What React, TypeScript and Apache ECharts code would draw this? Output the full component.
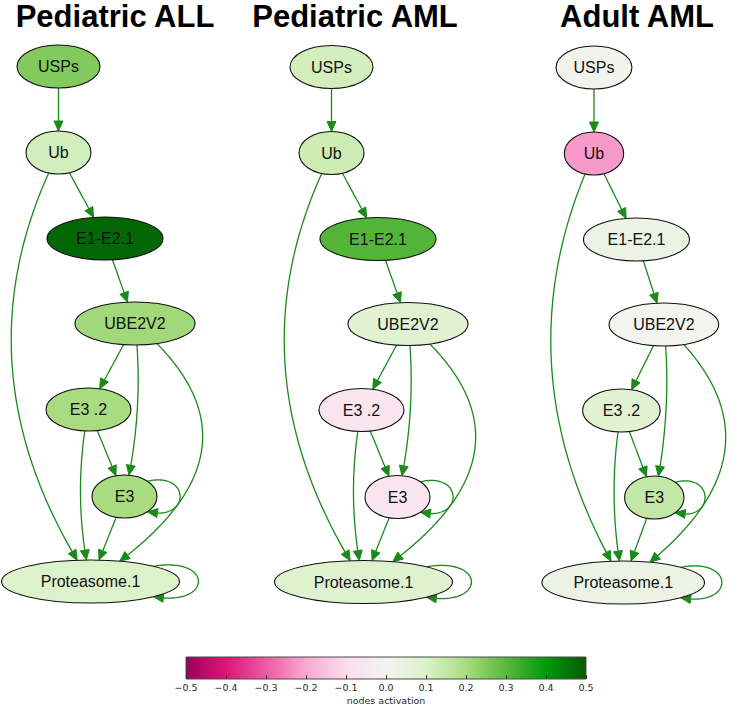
import React, { useEffect, useRef } from 'react';
import * as echarts from 'echarts';

// ---------------- data ----------------
const panelTitles = ['Pediatric ALL', 'Pediatric AML', 'Adult AML'];
const nodeNames = ['USPs', 'Ub', 'E1-E2.1', 'UBE2V2', 'E3 .2', 'E3', 'Proteasome.1'];
// graph layout (layout units)
const nodeX = [0, 0, 46.5, 76.5, 30, 66, 32];
const nodeY = [0, 86, 172, 257, 343, 430, 515];
const nodeW = [83, 65, 116, 120, 85, 65, 178];
const nodeH = [43, 43, 43, 43, 43, 43, 43];
// node activation per panel
const pediatricALL = [0.25, 0.12, 0.48, 0.21, 0.2, 0.2, 0.1];
const pediatricAML = [0.12, 0.13, 0.31, 0.08, -0.06, -0.06, 0.09];
const adultAML = [0.01, -0.22, 0.03, 0.0, 0.08, 0.15, 0.03];
const panelValues = [pediatricALL, pediatricAML, adultAML];
// edges
const edgeSource = [0, 1, 1, 2, 3, 3, 3, 4, 4, 5, 5, 6];
const edgeTarget = [1, 2, 6, 3, 4, 5, 6, 5, 6, 5, 6, 6];
const edgeBend = [0, 0, -83, 0, 0, 10, 118, 0, -12, 0, 0, 0];
// colour scale
const cmapValues = [-0.5, -0.4, -0.3, -0.2, -0.1, 0, 0.1, 0.2, 0.3, 0.4, 0.5];
const cmapColors = ['#9b0058', '#db1679', '#ee5ba3', '#f9a8d2', '#fcdcec', '#f3f3f0', '#dcf2cb', '#a9dc80', '#5bb83c', '#029a0c', '#045a04'];

// ---------------- styles / layout ----------------
const panelCenterX = [58.5, 331.5, 599];
const panelTopY = [66.5, 67, 67.5];
const X_MIN = -58, X_MAX = 162, Y_MIN = -66, Y_MAX = 560;
const EDGE_COLOR = '#1a8a1a';
const LOOP_REACH = 34;
const ARROW_LEN = 10;
const ARROW_HW = 4.5;

const hexToRgb = (h: string) => [parseInt(h.slice(1, 3), 16), parseInt(h.slice(3, 5), 16), parseInt(h.slice(5, 7), 16)];
function activationColor(v: number): string {
  const n = cmapValues.length;
  if (v <= cmapValues[0]) return cmapColors[0];
  if (v >= cmapValues[n - 1]) return cmapColors[n - 1];
  for (let k = 0; k < n - 1; k++) {
    if (v <= cmapValues[k + 1]) {
      const f = (v - cmapValues[k]) / (cmapValues[k + 1] - cmapValues[k]);
      const a = hexToRgb(cmapColors[k]);
      const b = hexToRgb(cmapColors[k + 1]);
      const c = a.map((x, j) => Math.round(x + (b[j] - x) * f));
      return `rgb(${c.join(',')})`;
    }
  }
  return cmapColors[n - 1];
}

type P = number[];
const bez = (p0: P, p1: P, p2: P, p3: P, t: number): P => {
  const u = 1 - t;
  const a = u * u * u, b = 3 * u * u * t, c = 3 * u * t * t, d = t * t * t;
  return [a * p0[0] + b * p1[0] + c * p2[0] + d * p3[0], a * p0[1] + b * p1[1] + c * p2[1] + d * p3[1]];
};
const inside = (c: P, rx: number, ry: number, p: P) => ((p[0] - c[0]) / rx) ** 2 + ((p[1] - c[1]) / ry) ** 2 <= 1;

function renderEdge(params: any, api: any) {
  const i = params.dataIndex;
  const s = edgeSource[i];
  const t = edgeTarget[i];
  const S = api.coord([api.value(0), api.value(1)]);
  const T = api.coord([api.value(2), api.value(3)]);
  const sSz = api.size([nodeW[s], nodeH[s]]);
  const tSz = api.size([nodeW[t], nodeH[t]]);
  const srx = sSz[0] / 2, sry = sSz[1] / 2, trx = tSz[0] / 2, tRy = tSz[1] / 2;
  let P0: P, P1: P, P2: P, P3: P;
  let t0 = 0, t1 = 1;
  if (s === t) {
    const L = api.size([LOOP_REACH, 0])[0];
    const k = Math.SQRT1_2;
    P0 = [S[0] + k * srx, S[1] - k * sry];
    P3 = [S[0] + k * srx, S[1] + k * sry];
    P1 = [S[0] + srx + L, S[1] - sry - 4];
    P2 = [S[0] + srx + L, S[1] + sry + 4];
  } else {
    const b = api.value(4);
    const bx = Math.sign(b) * api.size([Math.abs(b), 0])[0];
    P0 = S;
    P3 = T;
    P1 = [S[0] + (T[0] - S[0]) / 3 + bx, S[1] + (T[1] - S[1]) / 3];
    P2 = [S[0] + (2 * (T[0] - S[0])) / 3 + bx, S[1] + (2 * (T[1] - S[1])) / 3];
    let lo = 0, hi = 0.5;
    for (let it = 0; it < 30; it++) {
      const m = (lo + hi) / 2;
      if (inside(S, srx, sry, bez(P0, P1, P2, P3, m))) lo = m; else hi = m;
    }
    t0 = hi;
    lo = 0.5; hi = 1;
    for (let it = 0; it < 30; it++) {
      const m = (lo + hi) / 2;
      if (inside(T, trx, tRy, bez(P0, P1, P2, P3, m))) hi = m; else lo = m;
    }
    t1 = lo;
  }
  const N = 60;
  const pts: P[] = [];
  for (let k = 0; k <= N; k++) pts.push(bez(P0, P1, P2, P3, t0 + ((t1 - t0) * k) / N));
  const tip = pts[N];
  let j = N - 1;
  while (j > 0 && Math.hypot(pts[j][0] - tip[0], pts[j][1] - tip[1]) < ARROW_LEN) j--;
  const dx = tip[0] - pts[j][0], dy = tip[1] - pts[j][1];
  const len = Math.hypot(dx, dy) || 1;
  const ux = dx / len, uy = dy / len;
  const base = [tip[0] - ux * ARROW_LEN, tip[1] - uy * ARROW_LEN];
  const line = pts.slice(0, j + 1).concat([base]);
  const px = -uy, py = ux;
  return {
    type: 'group',
    children: [
      { type: 'polyline', shape: { points: line }, style: { stroke: EDGE_COLOR, lineWidth: 1.3, fill: null } },
      {
        type: 'polygon',
        shape: { points: [tip, [base[0] + px * ARROW_HW, base[1] + py * ARROW_HW], [base[0] - px * ARROW_HW, base[1] - py * ARROW_HW]] },
        style: { fill: EDGE_COLOR, stroke: EDGE_COLOR, lineWidth: 1 },
      },
    ],
  };
}

function renderNode(params: any, api: any) {
  const i = params.dataIndex;
  const c = api.coord([api.value(0), api.value(1)]);
  const sz = api.size([nodeW[i], nodeH[i]]);
  return {
    type: 'group',
    children: [
      {
        type: 'ellipse',
        shape: { cx: c[0], cy: c[1], rx: sz[0] / 2, ry: sz[1] / 2 },
        style: { fill: activationColor(api.value(2)), stroke: '#111', lineWidth: 1.1 },
      },
      {
        type: 'text',
        x: c[0],
        y: c[1],
        style: {
          text: nodeNames[i],
          fill: '#111',
          font: '16px "Liberation Sans", Arial, sans-serif',
          align: 'center',
          verticalAlign: 'middle',
        },
      },
    ],
  };
}

function renderColorbar(params: any, api: any) {
  const p0 = api.coord([api.value(0), 1]);
  const p1 = api.coord([api.value(1), 0]);
  const lo = cmapValues[0], hi = cmapValues[cmapValues.length - 1];
  return {
    type: 'rect',
    shape: { x: p0[0], y: p0[1], width: p1[0] - p0[0], height: p1[1] - p0[1] },
    style: {
      fill: new echarts.graphic.LinearGradient(0, 0, 1, 0,
        cmapValues.map((v, k) => ({ offset: (v - lo) / (hi - lo), color: cmapColors[k] }))),
      stroke: '#4a4a4a',
      lineWidth: 1,
    },
  };
}

export default function App() {
  const ref = useRef<HTMLDivElement>(null);
  useEffect(() => {
    document.body.style.margin = '0';
    if (!ref.current) return;
    const chart = echarts.init(ref.current, null, { renderer: 'svg' });
    const grids: any[] = [];
    const xAxes: any[] = [];
    const yAxes: any[] = [];
    const series: any[] = [];
    panelTitles.forEach((_, p) => {
      grids.push({
        left: panelCenterX[p] + X_MIN,
        top: panelTopY[p] + Y_MIN,
        width: X_MAX - X_MIN,
        height: Y_MAX - Y_MIN,
      });
      xAxes.push({ type: 'value', gridIndex: p, min: X_MIN, max: X_MAX, show: false });
      yAxes.push({ type: 'value', gridIndex: p, min: Y_MIN, max: Y_MAX, inverse: true, show: false });
      series.push({
        type: 'custom',
        name: `edges-${p}`,
        xAxisIndex: p,
        yAxisIndex: p,
        silent: true,
        z: 2,
        encode: { x: [0, 2], y: [1, 3] },
        data: edgeSource.map((s, i) => [nodeX[s], nodeY[s], nodeX[edgeTarget[i]], nodeY[edgeTarget[i]], edgeBend[i]]),
        renderItem: renderEdge,
      });
      series.push({
        type: 'custom',
        name: panelTitles[p],
        xAxisIndex: p,
        yAxisIndex: p,
        silent: true,
        z: 3,
        encode: { x: 0, y: 1 },
        data: nodeX.map((x, i) => [x, nodeY[i], panelValues[p][i]]),
        renderItem: renderNode,
      });
    });
    // colour bar
    grids.push({ left: 186, top: 657, width: 400, height: 25 });
    xAxes.push({
      type: 'value',
      gridIndex: 3,
      min: -0.5,
      max: 0.5,
      interval: 0.1,
      position: 'bottom',
      z: 5,
      axisLine: { show: false },
      splitLine: { show: false },
      axisTick: { show: true, inside: true, length: 4, lineStyle: { color: '#333', width: 1 } },
      axisLabel: {
        show: true,
        showMinLabel: true,
        showMaxLabel: true,
        fontSize: 9.5,
        margin: 3,
        color: '#2a2a2a',
        fontFamily: 'DejaVu Sans',
        formatter: (v: number) => (Math.abs(v) < 1e-9 ? '0.0' : (v < 0 ? '\u2212' : '') + Math.abs(v).toFixed(1)),
      },
      name: 'nodes activation',
      nameLocation: 'middle',
      nameGap: 16,
      nameTextStyle: { fontSize: 9.5, color: '#2a2a2a', fontFamily: 'DejaVu Sans' },
    });
    yAxes.push({ type: 'value', gridIndex: 3, min: 0, max: 1, show: false });
    series.push({
      type: 'custom',
      name: 'colorbar',
      xAxisIndex: 3,
      yAxisIndex: 3,
      silent: true,
      z: 1,
      encode: { x: [0, 1] },
      data: [[cmapValues[0], cmapValues[cmapValues.length - 1]]],
      renderItem: renderColorbar,
    });

    chart.setOption({
      animation: false,
      backgroundColor: '#fff',
      title: panelTitles.map((text, p) => ({
        text,
        left: [115, 355, 637][p],
        top: 1,
        padding: 0,
        textAlign: 'center',
        textStyle: { fontFamily: '"Liberation Sans", Arial, sans-serif', fontWeight: 'bold', fontSize: 31, color: '#000' },
      })),
      grid: grids,
      xAxis: xAxes,
      yAxis: yAxes,
      series,
    });
    return () => chart.dispose();
  }, []);
  return <div ref={ref} style={{ width: 742, height: 706 }} />;
}
